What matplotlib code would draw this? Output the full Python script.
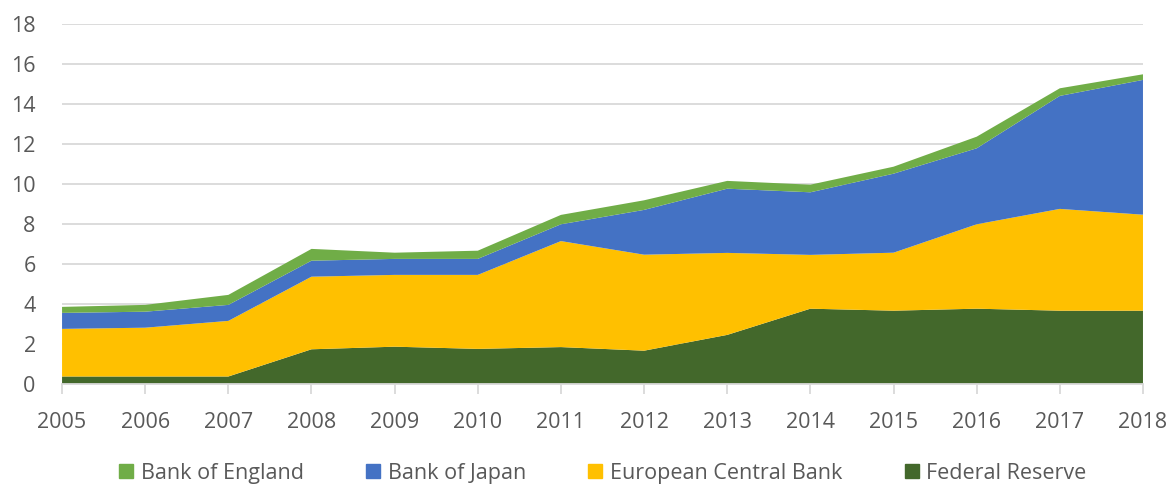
import matplotlib
matplotlib.use("Agg")
import matplotlib.pyplot as plt
from matplotlib.patches import Patch

years = list(range(2005, 2019))
fed = [0.40, 0.40, 0.40, 1.76, 1.89, 1.78, 1.87, 1.69, 2.48, 3.79, 3.69, 3.79, 3.69, 3.69]
ecb = [2.38, 2.44, 2.78, 3.63, 3.59, 3.70, 5.30, 4.80, 4.10, 2.69, 2.90, 4.22, 5.09, 4.80]
boj = [0.80, 0.80, 0.80, 0.80, 0.80, 0.80, 0.84, 2.24, 3.21, 3.13, 3.95, 3.80, 5.65, 6.74]
boe = [0.30, 0.34, 0.50, 0.59, 0.31, 0.41, 0.47, 0.48, 0.39, 0.38, 0.35, 0.58, 0.38, 0.28]

names = ["Federal Reserve", "European Central Bank", "Bank of Japan", "Bank of England"]
colors = ["#43682B", "#FFC000", "#4472C4", "#70AD47"]

plt.rcParams["font.family"] = ["Open Sans", "DejaVu Sans"]
txt = "#595959"
grid = "#D9D9D9"
fs = 15.5

fig = plt.figure(figsize=(11.73, 4.87), dpi=100)
ax = fig.add_axes([0.0529, 0.2105, 0.9215, 0.7392])
ax.stackplot(years, fed, ecb, boj, boe, colors=colors, linewidth=0, zorder=2)

ax.set_xlim(2005, 2018)
ax.set_ylim(0, 18)
ax.set_yticks(range(0, 19, 2))
ax.set_xticks(years)
ax.grid(axis="y", color=grid, linewidth=1.3, zorder=0)
for s in ("top", "right", "left"):
    ax.spines[s].set_visible(False)
ax.spines["bottom"].set_color(grid)
ax.spines["bottom"].set_linewidth(1.3)
ax.tick_params(axis="y", length=0, labelsize=fs, labelcolor=txt, pad=19)
ax.tick_params(axis="x", length=7, width=1.3, color=grid, labelsize=fs, labelcolor=txt, pad=13)

handles = [Patch(color=c) for c in colors][::-1]
fig.legend(handles, names[::-1], loc="center", bbox_to_anchor=(0.514, 0.028), ncol=4,
           frameon=False, fontsize=fs, labelcolor=txt, handlelength=0.65, handleheight=0.65,
           handletextpad=0.35, columnspacing=2.9)

fig.savefig("out.png", dpi=100)
